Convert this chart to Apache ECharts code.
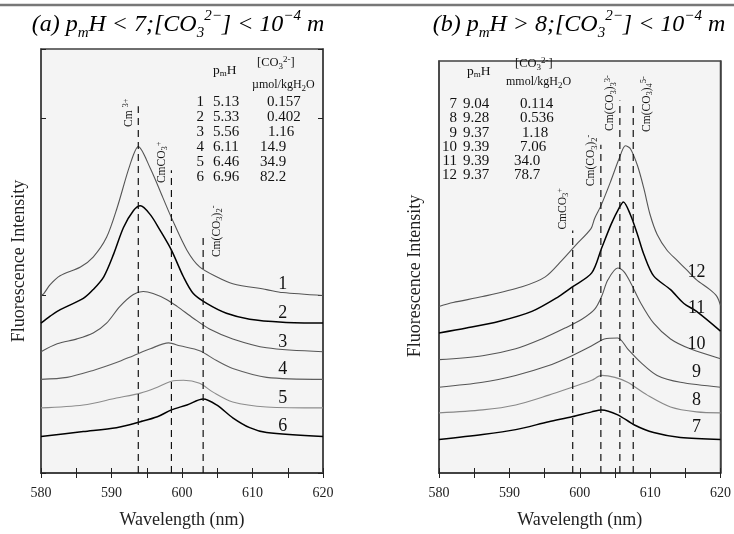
<!DOCTYPE html>
<html><head><meta charset="utf-8">
<script src="https://cdn.jsdelivr.net/npm/echarts/dist/echarts.min.js"></script>
<style>html,body{margin:0;padding:0;background:#fff}#c{width:734px;height:534px}</style>
</head><body><div id="c"></div>
<script>
// ---------- data (wavelength nm, relative intensity) ----------
const spec1 = [[580,180],[580.4,182],[581.3,191],[582.7,200],[585.6,209],[587.4,219],[589.3,239],[590.8,269],[592.6,312],[593.8,331],[595.5,309],[597.3,279],[598.5,259],[600.7,226],[602.5,209],[604.9,199],[607.2,192],[612,186],[614.3,183],[620,180]];
const spec2 = [[580,152],[581.3,159],[582.3,164],[583.7,169],[586.0,177],[587.4,186],[588.9,199],[590.3,222],[591.7,249],[593.1,266],[594.1,271],[595.5,262],[596.9,246],[598.5,226],[600.2,199],[601.6,182],[603.5,172],[606.3,162],[609.6,156],[614.3,153],[620,152]];
const spec3 = [[580,123],[582.3,131],[585.1,136],[587.4,142],[589.3,152],[591.2,169],[593.1,181],[594.5,184],[595.9,182],[597.8,176],[599.3,169],[601.6,157],[603.9,146],[607.2,136],[612.0,127],[620,123]];
const spec4 = [[580,95],[583.7,97],[587.4,104],[590.7,112],[593.1,119],[595.5,126],[598.1,132],[599.7,129],[602.5,124],[604.9,114],[607.2,106],[612.0,97],[620,95]];
const spec5 = [[580,66],[586.0,69],[590.7,76],[594.1,81],[596.5,87],[598.5,93],[600.2,94],[602.5,91],[604.4,82],[607.2,72],[612.0,67],[620,66]];
const spec6 = [[580,37],[586.0,42],[590.7,46],[594.1,52],[596.5,57],[598.5,64],[600.7,69],[603.0,75],[604.9,69],[607.2,56],[609.6,46],[612.0,41],[620,37]];

const spec7 = [[580,34],[586.2,39],[590.9,44],[595.6,52],[598.9,57],[601.7,62],[603.1,64],[605.4,59],[607.7,49],[610.5,41],[614.3,36],[620,34]];
const spec8 = [[580,61],[586.2,64],[590.9,69],[595.6,79],[598.9,87],[601.7,94],[603.1,99],[605.0,97],[606.8,92],[609.6,79],[612.9,67],[616.6,62],[620,61]];
const spec9 = [[580,87],[586.2,92],[590.9,99],[595.6,109],[598.9,119],[601.7,129],[603.5,136],[605.4,137],[606.8,126],[608.7,112],[611.0,99],[614.3,92],[620,87]];
const spec10 = [[580,115],[586.2,119],[590.9,126],[594.6,136],[597.9,147],[600.3,156],[602.1,166],[603.1,179],[604.0,196],[605.4,208],[606.3,204],[607.3,192],[608.7,172],[610.5,152],[612.9,136],[615.7,126],[620,116]];
const spec11 = [[580,142],[583.9,147],[588.6,154],[593.2,164],[597.0,179],[599.0,189],[601.7,203],[603.1,228],[604.5,253],[605.6,269],[606.2,275],[607.2,262],[608.2,242],[609.1,222],[610.5,200],[612.9,186],[614.8,172],[616.6,164],[620,144]];
const spec12 = [[580,169],[582,173],[586.2,179],[591.8,189],[595.1,199],[597.5,216],[599.4,231],[601.6,248],[602.1,258],[603.0,271],[604.4,296],[605.6,319],[606.5,332],[607.2,329],[608.2,312],[609.1,289],[610.0,262],[611.0,242],[612.4,226],[613.8,216],[615.2,206],[616.6,196],[618.5,186],[619.5,179],[620,170]];

const leftSpectra = [spec1, spec2, spec3, spec4, spec5, spec6];
const rightSpectra = [spec7, spec8, spec9, spec10, spec11, spec12];
const leftNames = ['1','2','3','4','5','6'];
const rightNames = ['7','8','9','10','11','12'];
const leftLabelPos = [[614.3,191],[614.3,162],[614.3,133],[614.3,105],[614.3,76],[614.3,47]];
const rightLabelPos = [[616.6,46],[616.6,74],[616.6,102],[616.6,131],[616.6,167],[616.6,204]];

const xTicks = [580, 590, 600, 610, 620];

// species lines (wavelength, top of dashed line, label bottom)
const leftPeaks = [593.8, 598.5, 603.0];
const leftPeakTops = [372, 307, 239];
const leftPeakLabelBottom = [351, 294, 219];
const leftPeakSide = ['left','left','right'];
const leftSpecies = ['{m|Cm }{p|3+}', '{m|CmCO}{s|3}{p|+}', '{m|Cm(CO}{s|3}{m|)}{s|2}{p|-}'];

const rightPeaks = [599.0, 603.0, 605.7, 607.6];
const rightPeakTops = [246, 333, 378, 376];
const rightPeakLabelBottom = [247, 291, 347, 346];
const rightPeakSide = ['left','left','left','right'];
const rightSpecies = ['{m|CmCO}{s|3}{p|+}', '{m|Cm(CO}{s|3}{m|)}{s|2}{p|-}', '{m|Cm(CO}{s|3}{m|)}{s|3}{p|3-}', '{m|Cm(CO}{s|3}{m|)}{s|4}{p|5-}'];

// tables
const leftRowNo = ['1','2','3','4','5','6'];
const leftPmH = ['5.13','5.33','5.56','6.11','6.46','6.96'];
const leftCO3 = ['0.157','0.402','1.16','14.9','34.9','82.2'];
const rightRowNo = ['7','8','9','10','11','12'];
const rightPmH = ['9.04','9.28','9.37','9.39','9.39','9.37'];
const rightCO3 = ['0.114','0.536','1.18','7.06','34.0','78.7'];

const titleA = '{i|(a) p}{s|m}{i|H < 7;[CO}{s|3}{p|2−}{i|] < 10}{p|−4}{i| m}';
const titleB = '{i|(b) p}{s|m}{i|H > 8;[CO}{s|3}{p|2−}{i|] < 10}{p|−4}{i| m}';

// ---------- styles ----------
const FONT = '"Liberation Serif","Times New Roman",Times,serif';
const leftColors = ['#555','#000','#555','#5e5e5e','#8c8c8c','#000'];
const leftWidths = [1.1,1.5,1.1,1.1,1.1,1.5];
const rightColors = ['#000','#888','#555','#555','#000','#555'];
const rightWidths = [1.5,1.1,1.1,1.1,1.5,1.1];
const FRAME = '#404040';

const chart = echarts.init(document.getElementById('c'));

function xAx(grid, pos){
  return {
    gridIndex: grid, type:'value', min:580, max:620, interval:5, position:pos,
    axisLine:{show:true, lineStyle:{color:FRAME, width:1.5}},
    axisTick:{show:true, inside:true, length:5, lineStyle:{color:'#222', width:1}},
    splitLine:{show:false},
    axisLabel: pos==='bottom' ? {show:true, margin:13, fontFamily:FONT, fontSize:14, color:'#222',
      formatter: v => xTicks.indexOf(v) >= 0 ? String(v) : ''} : {show:false},
    name: pos==='bottom' ? 'Wavelength (nm)' : '', nameLocation:'middle', nameGap:38,
    nameTextStyle:{fontFamily:FONT, fontSize:18, color:'#222'}
  };
}
function yAx(grid, pos, max, ticks, name){
  return {
    gridIndex: grid, type:'value', min:0, max:max, interval:180, position:pos,
    axisLine:{show:true, lineStyle:{color:FRAME, width:1.5}},
    axisTick:{show:ticks, inside:true, length:5, lineStyle:{color:'#222', width:1}},
    splitLine:{show:false}, axisLabel:{show:false},
    name: name, nameLocation:'middle', nameGap: grid===0 ? 13 : 15, nameRotate:90,
    nameTextStyle:{fontFamily:FONT, fontSize:18, color:'#222', padding: grid===0 ? [0,0,0,0] : [0,18,0,0]}
  };
}

const series = [];
leftSpectra.forEach((d,i)=>series.push({type:'line', xAxisIndex:0, yAxisIndex:0, data:d, showSymbol:false, smooth:0.3,
  lineStyle:{color:leftColors[i], width:leftWidths[i]}, silent:true, animation:false, z:3}));
rightSpectra.forEach((d,i)=>series.push({type:'line', xAxisIndex:2, yAxisIndex:2, data:d, showSymbol:false, smooth:0.3,
  lineStyle:{color:rightColors[i], width:rightWidths[i]}, silent:true, animation:false, z:3}));
leftPeaks.forEach((p,i)=>series.push({type:'line', xAxisIndex:0, yAxisIndex:0, data:[[p,0],[p,leftPeakTops[i]]], showSymbol:false,
  lineStyle:{color:'#111', width:1.2, type:[7,5]}, silent:true, animation:false, z:4}));
rightPeaks.forEach((p,i)=>series.push({type:'line', xAxisIndex:2, yAxisIndex:2, data:[[p,0],[p,rightPeakTops[i]]], showSymbol:false,
  lineStyle:{color:'#111', width:1.2, type:[7,5]}, silent:true, animation:false, z:4}));

chart.setOption({
  animation:false,
  backgroundColor:'#fff',
  grid:[
    {left:41, top:49, width:282, height:430, show:true, backgroundColor:'#f4f4f4', borderColor:FRAME, borderWidth:1.5},
    {left:439, top:61, width:285, height:418, show:true, backgroundColor:'#f4f4f4', borderColor:FRAME, borderWidth:1.5}
  ],
  xAxis:[xAx(0,'bottom'), xAx(0,'top'), xAx(1,'bottom'), xAx(1,'top')],
  yAxis:[yAx(0,'left',430,true,'Fluorescence Intensity'), yAx(0,'right',430,true,''),
         yAx(1,'left',418,false,'Fluorescence Intensity'), yAx(1,'right',418,false,'')],
  series: series
});

// ---------- annotations ----------
const g = [];
g.push({type:'line', shape:{x1:0,y1:5,x2:734,y2:5}, style:{stroke:'#777', lineWidth:2.5}, silent:true});

const titleRich = {
  i:{fontFamily:FONT, fontStyle:'italic', fontSize:24, lineHeight:32, fill:'#000'},
  s:{fontFamily:FONT, fontStyle:'italic', fontSize:15, lineHeight:15, verticalAlign:'bottom', fill:'#000'},
  p:{fontFamily:FONT, fontStyle:'italic', fontSize:15, lineHeight:15, verticalAlign:'top', fill:'#000'}
};
g.push({type:'text', x:178, y:25, style:{text:titleA, rich:titleRich, align:'center', verticalAlign:'middle'}, silent:true});
g.push({type:'text', x:579, y:25, style:{text:titleB, rich:titleRich, align:'center', verticalAlign:'middle'}, silent:true});

const labRich = {
  m:{fontFamily:FONT, fontSize:11.5, lineHeight:15, fill:'#111'},
  s:{fontFamily:FONT, fontSize:8.5, lineHeight:8, verticalAlign:'bottom', fill:'#111'},
  p:{fontFamily:FONT, fontSize:8.5, lineHeight:8, verticalAlign:'top', fill:'#111'}
};
function speciesLabels(xi, yi, peaks, bottoms, sides, texts){
  peaks.forEach((p,i)=>{
    const pt = chart.convertToPixel({xAxisIndex:xi, yAxisIndex:yi}, [p, bottoms[i]]);
    const left = sides[i]==='left';
    g.push({type:'text', x: pt[0] + (left ? -2 : 6), y: pt[1], rotation: Math.PI/2,
      style:{text:texts[i], rich:labRich, align:'left', verticalAlign: left ? 'bottom' : 'top'}, silent:true, z:10});
  });
}
speciesLabels(0,0,leftPeaks,leftPeakLabelBottom,leftPeakSide,leftSpecies);
speciesLabels(2,2,rightPeaks,rightPeakLabelBottom,rightPeakSide,rightSpecies);

function curveLabels(xi, yi, pos, names){
  pos.forEach((p,i)=>{
    const pt = chart.convertToPixel({xAxisIndex:xi, yAxisIndex:yi}, p);
    g.push({type:'text', x:pt[0], y:pt[1], style:{text:names[i], fontFamily:FONT, fontSize:18, fill:'#111', align:'center', verticalAlign:'middle'}, silent:true, z:10});
  });
}
curveLabels(0,0,leftLabelPos,leftNames);
curveLabels(2,2,rightLabelPos,rightNames);

const tabRich = {
  a:{fontFamily:FONT, fontSize:13.5, lineHeight:16, fill:'#111'},
  b:{fontFamily:FONT, fontSize:12.5, lineHeight:16, fill:'#111'},
  c:{fontFamily:FONT, fontSize:12, lineHeight:16, fill:'#111'},
  s:{fontFamily:FONT, fontSize:9, lineHeight:9, verticalAlign:'bottom', fill:'#111'},
  p:{fontFamily:FONT, fontSize:9, lineHeight:9, verticalAlign:'top', fill:'#111'}
};
function txt(x,y,t,align,size){
  g.push({type:'text', x:x, y:y, style:{text:t, fontFamily:FONT, fontSize:size||15, fill:'#111', align:align||'left', verticalAlign:'middle'}, silent:true, z:10});
}
function rtxt(x,y,t){
  g.push({type:'text', x:x, y:y, style:{text:t, rich:tabRich, align:'left', verticalAlign:'middle'}, silent:true, z:10});
}
// left table
rtxt(213, 70, '{a|p}{s|m}{a|H}');
rtxt(257, 63, '{b|[CO}{s|3}{p|2-}{b|]}');
rtxt(252, 85, '{c|µmol/kgH}{s|2}{c|O}');
const leftCol3X = [267,267,268,260,260,260];
leftRowNo.forEach((n,i)=>{
  const y = 102 + i*15;
  txt(204, y, n, 'right');
  txt(213, y, leftPmH[i]);
  txt(leftCol3X[i], y, leftCO3[i]);
});
// right table
rtxt(467, 71, '{a|p}{s|m}{a|H}');
rtxt(515, 64, '{b|[CO}{s|3}{p|2-}{b|]}');
rtxt(506, 82, '{c|mmol/kgH}{s|2}{c|O}');
const rightCol3X = [520,520,522,520,514,514];
rightRowNo.forEach((n,i)=>{
  const y = 104 + i*14.3;
  txt(457, y, n, 'right');
  txt(463, y, rightPmH[i]);
  txt(rightCol3X[i], y, rightCO3[i]);
});

chart.setOption({graphic: g});
</script></body></html>
